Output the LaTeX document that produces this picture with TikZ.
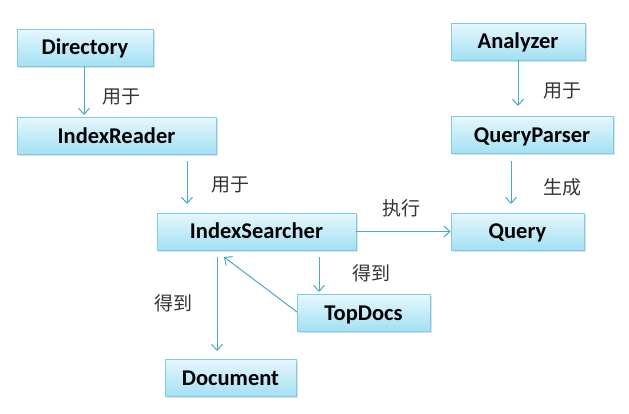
\documentclass[tikz,border=0pt]{standalone}
\usepackage{fontspec}
\setmainfont{Carlito}
\newfontfamily\cjk{Noto Sans CJK SC}
\usetikzlibrary{shadows,arrows.meta}
\definecolor{linec}{HTML}{45A8C8}
\definecolor{boxtop}{HTML}{E6F7FD}
\definecolor{boxbot}{HTML}{A2E0F3}
\definecolor{boxline}{HTML}{7FCBE3}
\tikzset{
  box/.style={draw=boxline, line width=0.8pt, top color=boxtop, bottom color=boxbot,
    minimum height=37pt, inner sep=0pt, text height=14.5pt, text depth=0pt,
    font=\fontsize{22.5}{26}\selectfont\bfseries,
    drop shadow={shadow xshift=1.5pt, shadow yshift=-1.5pt, opacity=0.25}},
  arr/.style={draw=linec, line width=1pt, -{Straight Barb[length=6pt,width=11pt]}},
  lbl/.style={font=\cjk\fontsize{19}{22}\selectfont, text=black!80}
}
\begin{document}
\begin{tikzpicture}[x=1pt,y=-1pt]
\useasboundingbox (0,0) rectangle (629,413);
\node[box, minimum width=136pt] (dir) at (85,47.5) {Directory};
\node[box, minimum width=199pt] (ir) at (116.5,136) {IndexReader};
\node[box, minimum width=199pt] (is) at (256.5,231.5) {IndexSearcher};
\node[box, minimum width=133pt] (td) at (363.5,313) {TopDocs};
\node[box, minimum width=131pt] (doc) at (230.5,378) {Document};
\node[box, minimum width=134pt] (an) at (518,41.5) {Analyzer};
\node[box, minimum width=162pt] (qp) at (532,135) {QueryParser};
\node[box, minimum width=133pt] (q) at (517.5,231.5) {Query};

\coordinate (a1s) at (84,66); \coordinate (a1e) at (84,115);
\draw[arr] (a1s) -- (a1e);
\node[lbl] (l1) at (121,97) {用于};

\coordinate (a2s) at (187,161); \coordinate (a2e) at (187,204);
\draw[arr] (a2s) -- (a2e);
\node[lbl] (l2) at (230,185) {用于};

\draw[arr] (is.east) -- (q.west);
\node[lbl] (l3) at (401,208) {执行};

\coordinate (a4s) at (319,257); \coordinate (a4e) at (319,292);
\draw[arr] (a4s) -- (a4e);
\node[lbl] (l4) at (371,273) {得到};

\coordinate (a5s) at (297,312); \coordinate (a5e) at (224,257);
\draw[arr] (a5s) -- (a5e);

\coordinate (a6s) at (217,257); \coordinate (a6e) at (217,351);
\draw[arr] (a6s) -- (a6e);
\node[lbl] (l6) at (173,303) {得到};

\coordinate (a7s) at (518,60); \coordinate (a7e) at (518,106);
\draw[arr] (a7s) -- (a7e);
\node[lbl] (l7) at (562,91) {用于};

\coordinate (a8s) at (511,161); \coordinate (a8e) at (511,204);
\draw[arr] (a8s) -- (a8e);
\node[lbl] (l8) at (562,187) {生成};
\end{tikzpicture}
\end{document}
